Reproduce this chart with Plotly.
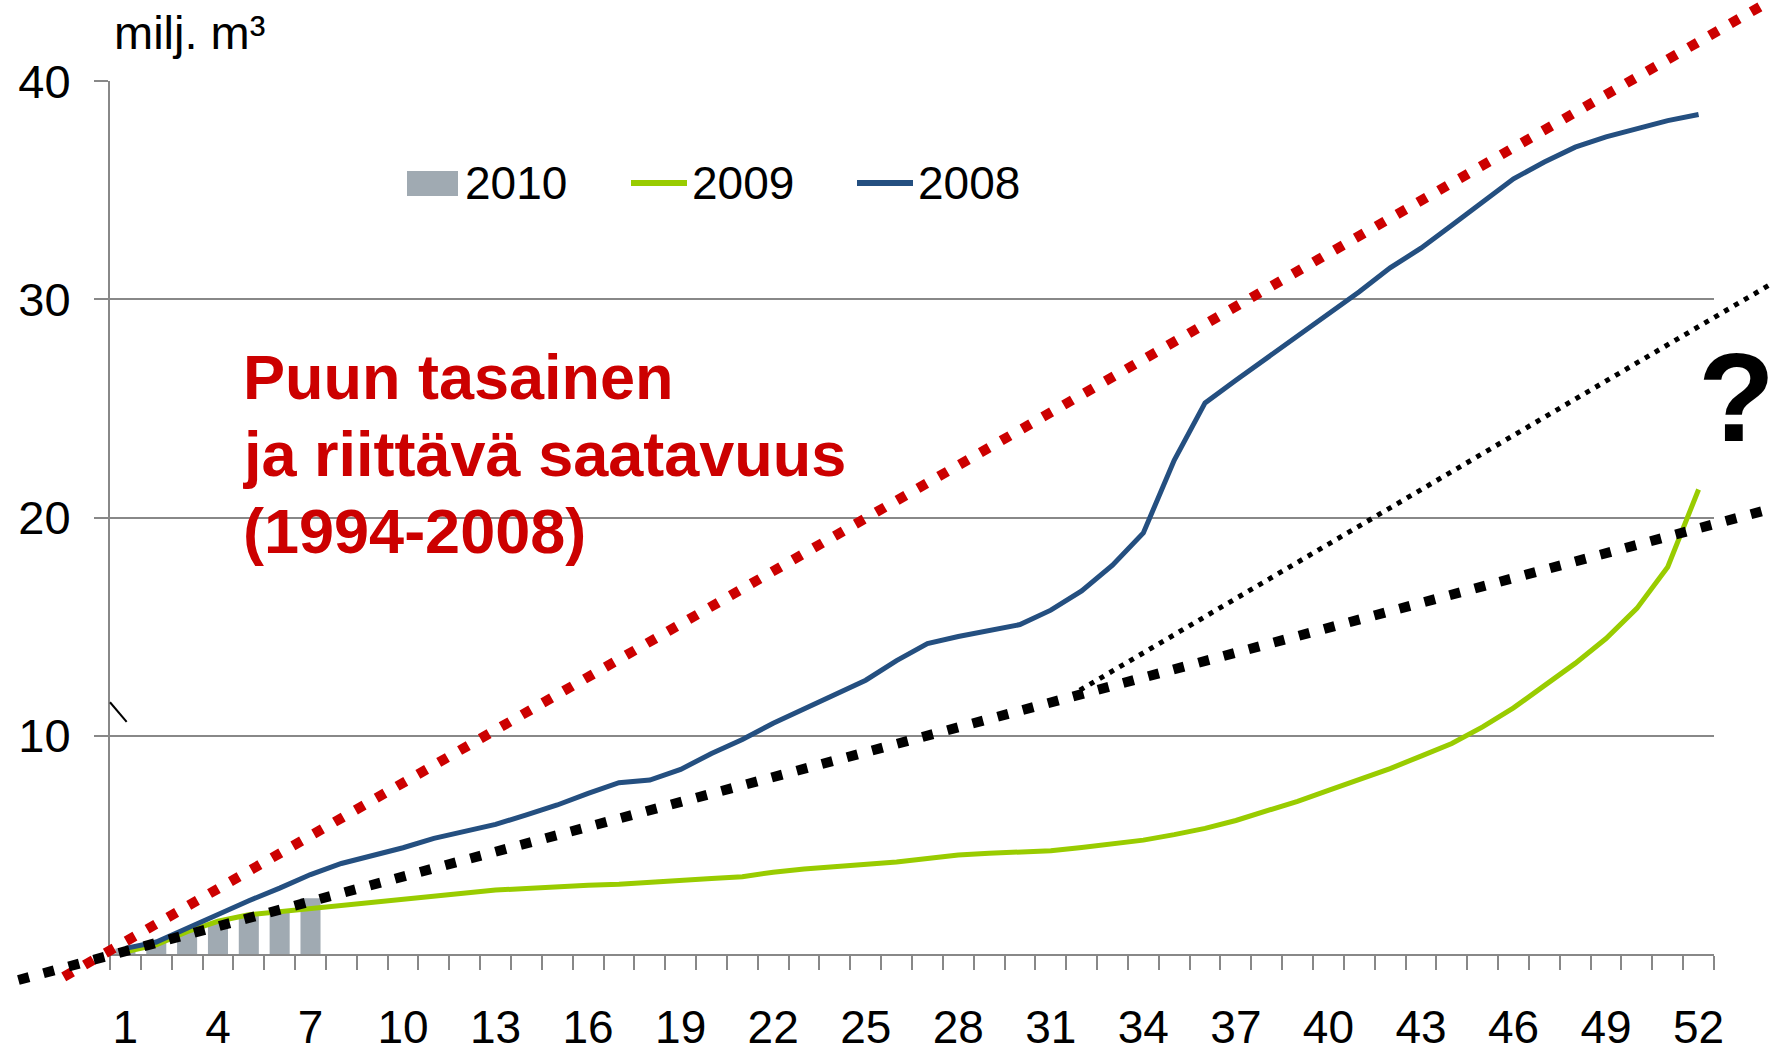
import plotly.graph_objects as go

# weekly cumulative volumes, milj. m3
weeks = list(range(1, 53))
vol_2008 = [0.26, 0.55, 1.18, 1.82, 2.44, 3.02, 3.64, 4.15, 4.5, 4.87,
            5.3, 5.62, 5.94, 6.38, 6.83, 7.36, 7.85, 7.97, 8.46, 9.19,
            9.83, 10.58, 11.25, 11.9, 12.55, 13.45, 14.23, 14.55, 14.85, 15.1,
            15.76, 16.64, 17.82, 19.3, 22.63, 25.26, 26.3, 27.3, 28.36, 29.35,
            30.35, 31.45, 32.35, 33.4, 34.45, 35.53, 36.3, 36.98, 37.45, 37.85,
            38.2, 38.48]
vol_2009 = [0.1, 0.42, 1.02, 1.5, 1.8, 1.94, 2.1, 2.22, 2.35, 2.5,
            2.68, 2.82, 2.93, 3.0, 3.09, 3.15, 3.2, 3.3, 3.39, 3.46,
            3.54, 3.75, 3.9, 4.0, 4.08, 4.22, 4.38, 4.54, 4.62, 4.68,
            4.73, 4.88, 5.05, 5.22, 5.47, 5.76, 6.12, 6.55, 7.0, 7.5,
            8.0, 8.5, 9.07, 9.65, 10.41, 11.28, 12.3, 13.32, 14.46, 15.84,
            17.74, 21.29]
weeks_2010 = [1, 2, 3, 4, 5, 6, 7]
vol_2010 = [0.25, 0.55, 1.1, 1.45, 1.75, 2.05, 2.55]

# trend lines (week, milj. m3), they run past the plot area
red_trend_x = [-1.0, 54.34]
red_trend_y = [-1.05, 43.7]
black_trend_x = [-2.47, 54.34]
black_trend_y = [-1.19, 20.4]
thin_trend_x = [31.94, 54.34]
thin_trend_y = [12.09, 30.7]
stray_x = [0.5, 1.04]
stray_y = [11.54, 10.64]

tick_weeks = weeks[::3]
y_ticks = [10, 20, 30, 40]
legend_names = ["2010", "2009", "2008"]
note_lines = ["Puun tasainen", "ja riittävä saatavuus", "(1994-2008)"]

GRAY = "#A0AAB2"
GREEN = "#99CC00"
BLUE = "#244F80"
RED = "#CC0000"
AXIS = "#888888"
FONT = "Liberation Sans, Arial, sans-serif"

W, H = 1771, 1046
left, right, top, bottom = 110, 1714, 81.3, 954
x_range = [0.5, 52.5]
y_range = [0, 40]
ux = (right - left) / (x_range[1] - x_range[0])
uy = (bottom - top) / (y_range[1] - y_range[0])
# second full-page axis pair with the same scale, so trend lines are not clipped
x2_range = [x_range[0] - left / ux, x_range[1] + (W - right) / ux]
y2_range = [y_range[0] - (H - bottom) / uy, y_range[1] + top / uy]

fig = go.Figure()
fig.add_trace(go.Bar(x=weeks_2010, y=vol_2010, width=0.65, marker_color=GRAY,
                     marker_line_width=0, name="2010"))
fig.add_trace(go.Scatter(x=weeks, y=vol_2009, mode="lines", name="2009",
                         line=dict(color=GREEN, width=5)))
fig.add_trace(go.Scatter(x=weeks, y=vol_2008, mode="lines", name="2008",
                         line=dict(color=BLUE, width=5)))

fig.add_trace(go.Scatter(x=red_trend_x, y=red_trend_y, mode="lines", xaxis="x2", yaxis="y2",
                         line=dict(color=RED, width=10, dash="10px,14px")))
fig.add_trace(go.Scatter(x=black_trend_x, y=black_trend_y, mode="lines", xaxis="x2", yaxis="y2",
                         line=dict(color="black", width=10, dash="11px,15px")))
fig.add_trace(go.Scatter(x=thin_trend_x, y=thin_trend_y, mode="lines", xaxis="x2", yaxis="y2",
                         line=dict(color="black", width=5, dash="5px,6.5px")))
fig.add_trace(go.Scatter(x=stray_x, y=stray_y, mode="lines", xaxis="x2", yaxis="y2",
                         line=dict(color="black", width=2)))

fig.update_layout(
    width=W, height=H,
    margin=dict(l=0, r=0, t=0, b=0, pad=0),
    paper_bgcolor="white",
    plot_bgcolor="rgba(0,0,0,0)",
    showlegend=False,
    font=dict(family=FONT, color="black"),
    xaxis=dict(
        domain=[left / W, right / W], range=x_range, anchor="y", automargin=False,
        tickmode="array", tickvals=tick_weeks, ticks="",
        tickfont=dict(size=46), ticklabelstandoff=32,
        showline=True, linecolor=AXIS, linewidth=2, showgrid=False, zeroline=False,
        minor=dict(tick0=0.5, dtick=1, ticks="outside", ticklen=14, tickcolor=AXIS,
                   tickwidth=1.5, showgrid=False),
    ),
    yaxis=dict(
        domain=[1 - bottom / H, 1 - top / H], range=y_range, anchor="x", automargin=False,
        tickmode="array", tickvals=y_ticks, ticks="outside", ticklen=14,
        tickcolor=AXIS, tickwidth=2, tickfont=dict(size=47), ticklabelstandoff=14,
        showline=True, linecolor=AXIS, linewidth=2,
        showgrid=True, gridcolor=AXIS, gridwidth=2, zeroline=False,
    ),
    xaxis2=dict(domain=[0, 1], range=x2_range, anchor="y2", visible=False, automargin=False),
    yaxis2=dict(domain=[0, 1], range=y2_range, anchor="x2", visible=False, automargin=False),
)

# unit label
fig.add_annotation(text="milj. m³", xref="paper", yref="paper", x=112 / W, y=1 - 33 / H,
                   xanchor="left", yanchor="middle", showarrow=False, font=dict(size=47))

# legend drawn by hand
fig.add_shape(type="rect", xref="paper", yref="paper", x0=407 / W, x1=458 / W,
              y0=1 - 196 / H, y1=1 - 171 / H, fillcolor=GRAY, line_width=0)
for x0, color in [(631, GREEN), (857, BLUE)]:
    fig.add_shape(type="line", xref="paper", yref="paper", x0=x0 / W, x1=(x0 + 56) / W,
                  y0=1 - 183 / H, y1=1 - 183 / H, line=dict(color=color, width=6))
for x0, name in zip([463, 690, 916], legend_names):
    fig.add_annotation(text=name, xref="paper", yref="paper", x=x0 / W, y=1 - 183 / H,
                       xanchor="left", yanchor="middle", showarrow=False, font=dict(size=46))

# red note
for i, line in enumerate(note_lines):
    fig.add_annotation(text="<b>" + line + "</b>", xref="paper", yref="paper",
                       x=241 / W, y=1 - (377 + 77 * i) / H, xanchor="left", yanchor="middle",
                       showarrow=False, font=dict(size=63, color=RED))

fig.add_annotation(text="<b>?</b>", xref="paper", yref="paper", x=1736 / W, y=1 - 398 / H,
                   xanchor="center", yanchor="middle", showarrow=False, font=dict(size=126))

fig.write_html("out.html", config={"displayModeBar": False},
               post_script="document.body.style.margin = '0px';")
